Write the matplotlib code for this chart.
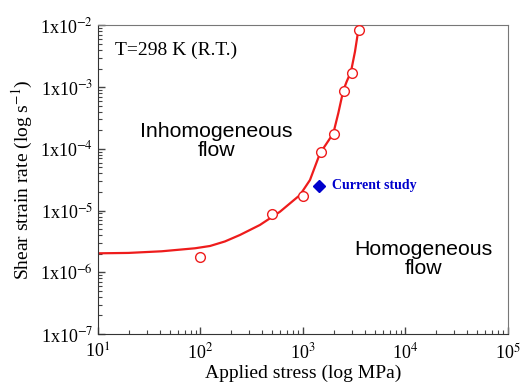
import matplotlib.pyplot as plt

plt.rcParams['font.family'] = ['Liberation Serif', 'DejaVu Serif']
plt.rcParams['mathtext.fontset'] = 'stix'

# measured points (MPa, 1/s)
stress = [100, 500, 1000, 1500, 2000, 2500, 3000, 3500]
rate = [1.77e-6, 8.7e-6, 1.73e-5, 8.8e-5, 1.74e-4, 8.7e-4, 1.72e-3, 8.45e-3]

# fitted curve, points
fit_stress = [10, 19.8, 41.8, 88.4, 124, 173, 243, 380, 597, 935, 1170, 1466,
              1703, 1977, 2210, 2470, 2667, 2938, 3215, 3467, 3557]
fit_rate = [2.03e-6, 2.06e-6, 2.19e-6, 2.45e-6, 2.67e-6, 3.16e-6, 4.03e-6,
            5.85e-6, 9.6e-6, 1.79e-5, 3.13e-5, 8.5e-5, 1.23e-4, 1.79e-4,
            3.78e-4, 8.77e-4, 1.23e-3, 1.78e-3, 3.76e-3, 8.45e-3, 1.0e-2]

current_stress = [1442]
current_rate = [2.54e-5]

y_ticks = [1e-7, 1e-6, 1e-5, 1e-4, 1e-3, 1e-2]
y_labels = [r'1x10$^{-%d}$' % k for k in range(7, 1, -1)]
x_ticks = [1e1, 1e2, 1e3, 1e4, 1e5]
x_labels = [r'10$^{%d}$' % k for k in range(1, 6)]

fig = plt.figure(figsize=(5.21, 3.89), dpi=100)
ax = fig.add_axes([0.1881, 0.1414, 0.7869, 0.7931])

ax.plot(fit_stress, fit_rate, color='#ee1c1c', lw=1.6, zorder=2,
        solid_joinstyle='round')
ax.plot(stress, rate, 'o', ms=7, mfc='white', mec='#ee1c1c', mew=1.0, zorder=3)
ax.plot(current_stress, current_rate, 'D', ms=6.5, color='#0000cc', zorder=3)

ax.set_xscale('log')
ax.set_yscale('log')
ax.set_xlim(10, 1e5)
ax.set_ylim(1e-7, 1e-2)
ax.set_xticks(x_ticks)
ax.set_xticklabels(x_labels)
ax.set_yticks(y_ticks)
ax.set_yticklabels(y_labels)
ax.tick_params(which='major', direction='in', length=5, width=1, labelsize=13,
               color='#444444')
ax.tick_params(which='minor', direction='in', length=3, width=0.8, color='#444444')
ax.tick_params(axis='x', pad=6)

for side in ['left', 'bottom']:
    ax.spines[side].set_color('#333333')
for side in ['top', 'right']:
    ax.spines[side].set_color('#777777')

ax.set_xlabel('Applied stress (log MPa)', fontsize=14, labelpad=2)
ax.set_ylabel(r'Shear strain rate (log s$^{-1}$)', fontsize=14, labelpad=4)

ax.text(0.041, 0.921, 'T=298 K (R.T.)', transform=ax.transAxes,
        fontsize=14, va='center', ha='left')
ax.text(0.288, 0.626, 'Inhomogeneous\nflow', transform=ax.transAxes,
        fontsize=15.3, ha='center', va='center', linespacing=1.0,
        family=['Liberation Sans', 'DejaVu Sans'])
ax.text(0.793, 0.243, 'Homogeneous\nflow', transform=ax.transAxes,
        fontsize=15.3, ha='center', va='center', linespacing=1.0,
        family=['Liberation Sans', 'DejaVu Sans'])
ax.text(0.571, 0.48, 'Current study', transform=ax.transAxes,
        fontsize=10, fontweight='bold', color='#0000cc', va='center', ha='left')

fig.savefig('out.png', dpi=100)
